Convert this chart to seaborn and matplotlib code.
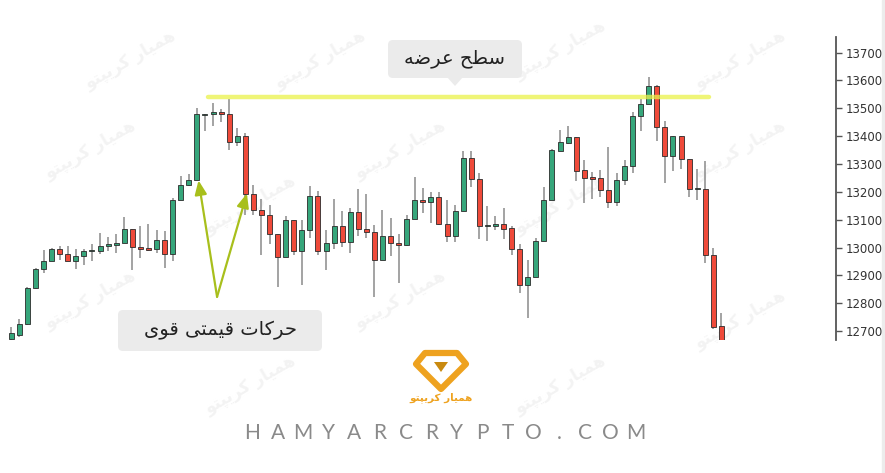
import matplotlib
matplotlib.use("Agg")
import numpy as np
import pandas as pd
import matplotlib.pyplot as plt
import seaborn as sns
from matplotlib.patches import Polygon, FancyBboxPatch, Rectangle

# ---------------- data ----------------
opens = [12670, 12687, 12727, 12856, 12922, 12953, 12993, 12978, 12951, 12970,
         12987, 12988, 13005, 13010, 13018, 13066, 13001, 12998, 12995, 13026,
         12977, 13169, 13226, 13241, 13477, 13479, 13487, 13481, 13380, 13402,
         13194, 13134, 13118, 13047, 12967, 13098, 12987, 13062, 13186, 12987,
         13017, 13076, 13019, 13128, 13068, 13057, 12955, 13041, 13016, 13009,
         13104, 13172, 13162, 13182, 13086, 13041, 13133, 13322, 13247, 13078,
         13079, 13086, 13069, 12995, 12867, 12895, 13023, 13170, 13345, 13377,
         13397, 13277, 13253, 13248, 13205, 13162, 13244, 13292, 13473, 13516,
         13581, 13433, 13327, 13399, 13318, 13210, 13210, 12975, 12718]
closes = [12692, 12727, 12856, 12922, 12953, 12993, 12978, 12951, 12970, 12987,
          12990, 13005, 13011, 13018, 13066, 13001, 12996, 12992, 13026, 12977,
          13169, 13226, 13241, 13479, 13481, 13487, 13479, 13380, 13402, 13194,
          13134, 13117, 13047, 12967, 13098, 12987, 13062, 13186, 12987, 13017,
          13076, 13019, 13128, 13067, 13057, 12955, 13041, 13016, 13009, 13104,
          13172, 13162, 13182, 13086, 13041, 13133, 13322, 13247, 13079, 13080,
          13086, 13067, 12993, 12867, 12895, 13023, 13172, 13349, 13379, 13397,
          13274, 13250, 13246, 13205, 13162, 13244, 13294, 13473, 13516, 13581,
          13433, 13327, 13399, 13318, 13210, 13213, 12975, 12716, 12668]
highs = [12713, 12742, 12860, 12925, 12992, 13000, 13005, 13005, 12993, 12993,
         13014, 13054, 13037, 13050, 13109, 13066, 13079, 13083, 13064, 13058,
         13178, 13256, 13264, 13501, 13481, 13519, 13497, 13533, 13429, 13413,
         13226, 13175, 13151, 13047, 13112, 13098, 13100, 13222, 13202, 13062,
         13175, 13130, 13142, 13210, 13194, 13082, 13134, 13106, 13047, 13118,
         13253, 13214, 13198, 13198, 13172, 13151, 13345, 13348, 13268, 13148,
         13112, 13142, 13076, 13011, 12954, 13035, 13218, 13354, 13423, 13435,
         13397, 13315, 13273, 13280, 13361, 13268, 13315, 13485, 13533, 13612,
         13584, 13453, 13399, 13399, 13318, 13282, 13309, 12999, 12764]
lows = [12665, 12677, 12722, 12852, 12907, 12950, 12957, 12950, 12922, 12939,
        12951, 12977, 12987, 12980, 13016, 12918, 12964, 12987, 12981, 12927,
        12951, 13169, 13220, 13241, 13417, 13435, 13449, 13349, 13363, 13118,
        13118, 12975, 13014, 12859, 12967, 12975, 12867, 13035, 12975, 12918,
        12993, 13002, 12981, 13043, 13035, 12823, 12955, 12969, 12874, 13007,
        13104, 13124, 13088, 13082, 13019, 13019, 13133, 13218, 13031, 13023,
        13062, 13029, 12975, 12837, 12748, 12895, 13023, 13170, 13345, 13372,
        13238, 13160, 13175, 13182, 13142, 13148, 13226, 13268, 13417, 13516,
        13381, 13232, 13274, 13282, 13182, 13170, 12945, 12706, 12660]
y_ticks = [12700, 12800, 12900, 13000, 13100, 13200, 13300, 13400, 13500, 13600, 13700]
supply_level = 13541
supply_span = (24.4, 86.4)          # candle-index range of the supply line
arrow_targets = [23, 29]            # candles pointed at by the arrows

label_supply = "سطح عرضه"
label_moves = "حرکات قیمتی قوی"
logo_text = "همیار کریپتو"
site_text = "HAMYARCRYPTO.COM"

# ---------------- Persian shaping (presentation forms) ----------------
FORMS = {
    'ا': ('\uFE8D', '\uFE8E', None, None),
    'ب': ('\uFE8F', '\uFE90', '\uFE91', '\uFE92'),
    'ت': ('\uFE95', '\uFE96', '\uFE97', '\uFE98'),
    'ح': ('\uFEA1', '\uFEA2', '\uFEA3', '\uFEA4'),
    'ر': ('\uFEAD', '\uFEAE', None, None),
    'س': ('\uFEB1', '\uFEB2', '\uFEB3', '\uFEB4'),
    'ض': ('\uFEBD', '\uFEBE', '\uFEBF', '\uFEC0'),
    'ط': ('\uFEC1', '\uFEC2', '\uFEC3', '\uFEC4'),
    'ع': ('\uFEC9', '\uFECA', '\uFECB', '\uFECC'),
    'ق': ('\uFED5', '\uFED6', '\uFED7', '\uFED8'),
    'م': ('\uFEE1', '\uFEE2', '\uFEE3', '\uFEE4'),
    'ه': ('\uFEE9', '\uFEEA', '\uFEEB', '\uFEEC'),
    'و': ('\uFEED', '\uFEEE', None, None),
    'ک': ('\uFB8E', '\uFB8F', '\uFB90', '\uFB91'),
    'ی': ('\uFBFC', '\uFBFD', '\uFBFE', '\uFBFF'),
    'پ': ('\uFB56', '\uFB57', '\uFB58', '\uFB59'),
}


def shape(s):
    out = []
    n = len(s)

    def dual(c):
        return c in FORMS and FORMS[c][2] is not None

    for i, c in enumerate(s):
        if c not in FORMS:
            out.append(c)
            continue
        prev = s[i - 1] if i > 0 else ''
        nxt = s[i + 1] if i < n - 1 else ''
        jp = dual(prev)
        jn = dual(c) and nxt in FORMS
        iso, fin, ini, med = FORMS[c]
        if jp and jn:
            out.append(med)
        elif jp:
            out.append(fin)
        elif jn:
            out.append(ini)
        else:
            out.append(iso)
    return ''.join(reversed(out))


# ---------------- figure ----------------
sns.set_theme(style="white")
plt.rcParams['font.family'] = ['DejaVu Sans']

W, H = 885, 473
fig = plt.figure(figsize=(W / 100, H / 100), dpi=100)
fig.patch.set_facecolor('white')

df = pd.DataFrame({'open': opens, 'close': closes, 'high': highs, 'low': lows})
df['idx'] = np.arange(len(df))
df['up'] = df['close'] >= df['open']
df['bottom'] = df[['open', 'close']].min(axis=1)
df['height'] = (df['close'] - df['open']).abs().clip(lower=3)

# background overlay in pixel coordinates for faint watermarks
bg = fig.add_axes([0, 0, 1, 1], zorder=0)
bg.set_xlim(0, W)
bg.set_ylim(H, 0)
bg.axis('off')
wm_pos = [(90, 150), (250, 205), (400, 150), (560, 205), (740, 150),
          (90, 300), (250, 385), (400, 300), (560, 385), (740, 320),
          (130, 60), (320, 60), (560, 50), (740, 60)]
for (x, y) in wm_pos:
    bg.text(x, y, shape(logo_text), rotation=30, fontsize=12, color='#f3f3f3',
            ha='center', va='center', fontweight='bold')
bg.add_patch(Rectangle((882, 0), 3, H, color='#ececec'))

ax = fig.add_axes([0, 1 - 340 / H, 836 / W, (340 - 37) / H], zorder=1)
ax.patch.set_alpha(0)

green = '#36a67b'
red = '#ef4a3a'
colors = np.where(df['up'], green, red)

ax.vlines(df['idx'], df['low'], df['high'], color='#8a8a8a', linewidth=1.1, zorder=2)
ax.bar(df['idx'], df['height'], bottom=df['bottom'], width=0.62, color=colors,
       edgecolor='#2b2b2b', linewidth=0.6, zorder=3)

# supply line
sns.lineplot(x=list(supply_span), y=[supply_level, supply_level], ax=ax,
             color='#eaf24a', linewidth=3.2, alpha=0.75, zorder=4)

# arrows
start = (25.5, 12823)
for t in arrow_targets:
    tip_y = min(opens[t], closes[t]) if t == arrow_targets[0] else closes[t]
    ax.annotate('', xy=(t + 0.2, tip_y), xytext=start,
                arrowprops=dict(arrowstyle='-|>,head_length=0.7,head_width=0.3',
                                color='#a8bf1c', lw=1.6, shrinkA=0, shrinkB=0),
                zorder=5)

ax.set_xlim(-1.4, 102.2)
ax.set_ylim(12668, 13756)
ax.set_yticks(y_ticks)
ax.set_yticklabels([str(v) for v in y_ticks])
ax.yaxis.tick_right()
ax.tick_params(axis='y', which='both', right=True, left=False, length=4, width=1,
               color='#555555', labelsize=8.5, labelcolor='#333333', pad=3,
               direction='out')
ax.set_xticks([])
for s in ['left', 'top', 'bottom']:
    ax.spines[s].set_visible(False)
ax.spines['right'].set_color('#555555')
ax.spines['right'].set_linewidth(1.3)

# foreground overlay in pixel coordinates
ov = fig.add_axes([0, 0, 1, 1], zorder=2)
ov.set_xlim(0, W)
ov.set_ylim(H, 0)
ov.axis('off')
ov.patch.set_alpha(0)

# supply label box
ov.add_patch(FancyBboxPatch((388, 40), 134, 38,
                            boxstyle='round,pad=0,rounding_size=5',
                            facecolor='#ebebeb', edgecolor='none'))
ov.add_patch(Polygon([(447, 77), (463, 77), (455, 86)], closed=True,
                     facecolor='#ebebeb', edgecolor='none'))
ov.text(455, 59, shape(label_supply), ha='center', va='center', fontsize=14,
        color='#222222')

# strong moves label box
ov.add_patch(FancyBboxPatch((118, 310), 204, 41,
                            boxstyle='round,pad=0,rounding_size=5',
                            facecolor='#ebebeb', edgecolor='none'))
ov.text(220, 330, shape(label_moves), ha='center', va='center', fontsize=14,
        color='#222222')

# logo
orange = '#eea21f'
ov.add_patch(Polygon([(425, 353), (457, 353), (466, 364), (441, 389), (416, 364)],
                     closed=True, facecolor='none', edgecolor=orange, linewidth=4.5,
                     joinstyle='round'))
ov.add_patch(Polygon([(434, 362), (448, 362), (441, 372)], closed=True,
                     facecolor='#c98a10', edgecolor='none'))
ov.text(441, 398, shape(logo_text), ha='center', va='center', fontsize=7.5,
        color=orange, fontweight='bold')

# site text, letter-spaced
x0, step = 252, 25.6
for i, ch in enumerate(site_text):
    ov.text(x0 + i * step, 433, ch, ha='center', va='center', fontsize=15,
            color='#8a8a8a', family=['Lato', 'DejaVu Sans'])

fig.savefig('out.png', dpi=100, facecolor='white')
